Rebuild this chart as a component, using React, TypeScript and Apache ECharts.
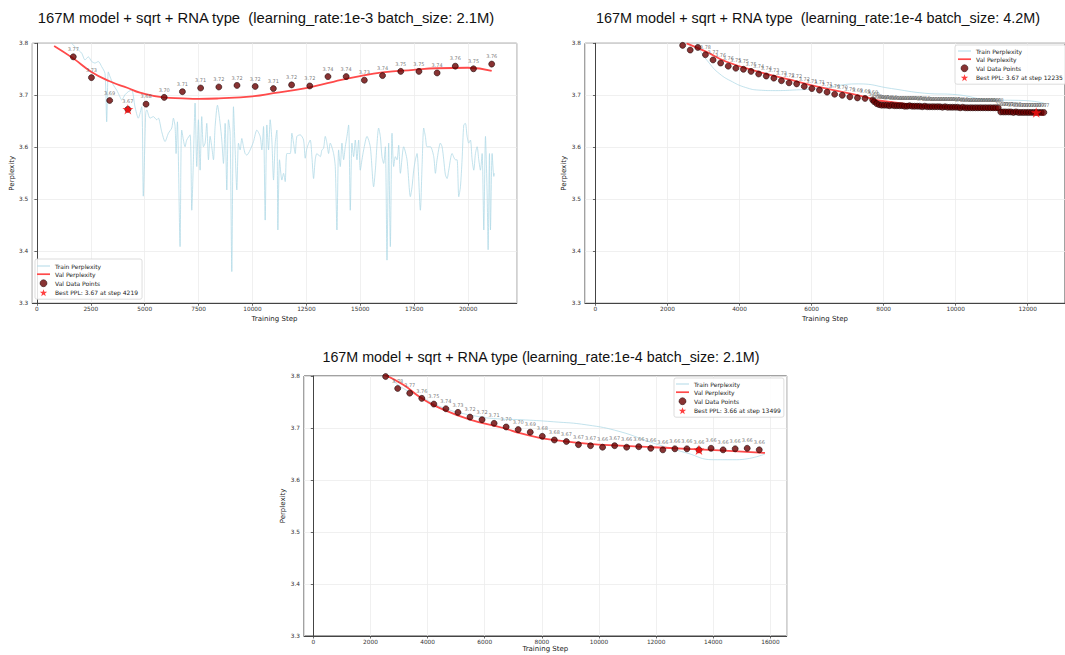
import React, { useEffect, useRef } from "react";
import * as echarts from "echarts";

const STAR =
  "path://M50,2 L61.8,36.2 L97.6,36.2 L68.7,57.6 L79.4,91.8 L50,71 L20.6,91.8 L31.3,57.6 L2.4,36.2 L38.2,36.2 Z";
const LINE_ICON_THIN = "path://M0,0 L26,0 L26,2.2 L0,2.2 Z";
const LINE_ICON_THICK = "path://M0,0 L26,0 L26,3.4 L0,3.4 Z";

// ---------------- Panel A (top-left) ----------------
const aTitle = "167M model + sqrt + RNA type  (learning_rate:1e-3 batch_size: 2.1M)";
const aTrainSteps = [
  1000, 1400, 1614, 1846, 2078, 2231, 2384, 2542, 2695, 2848, 3006, 3159, 3237, 3312, 3391, 3544, 3701, 3854, 3933,
  4086, 4239, 4397, 4550, 4703, 4861, 4935, 5046, 5093, 5248, 5402, 5557, 5635, 5789, 5944, 6099, 6254, 6331, 6409,
  6455, 6517, 6641, 6718, 6873, 6950, 7105, 7183, 7260, 7337, 7415, 7492, 7570, 7647, 7724, 7802, 7879, 7957, 8034,
  8111, 8189, 8266, 8375, 8498, 8576, 8653, 8731, 8808, 8885, 8963, 9040, 9118, 9195, 9272, 9350, 9427, 9505, 9582,
  9659, 9737, 9892, 10046, 10201, 10356, 10433, 10511, 10588, 10666, 10743, 10820, 10898, 10975, 11053, 11130, 11177,
  11254, 11362, 11440, 11517, 11594, 11749, 11827, 11904, 11981, 12059, 12214, 12368, 12446, 12523, 12678, 12755,
  12833, 12910, 12988, 13142, 13220, 13297, 13375, 13452, 13529, 13607, 13762, 13839, 13916, 13994, 14071, 14149,
  14226, 14303, 14381, 14458, 14536, 14613, 14690, 14768, 14845, 14923, 15000, 15077, 15155, 15310, 15464, 15619,
  15697, 15851, 15929, 16006, 16084, 16161, 16238, 16316, 16393, 16471, 16548, 16625, 16703, 16780, 16858, 17012,
  17167, 17322, 17400, 17477, 17554, 17632, 17786, 17864, 17941, 18019, 18096, 18251, 18406, 18483, 18560, 18715,
  18793, 18870, 18947, 19025, 19102, 19257, 19412, 19489, 19567, 19644, 19721, 19799, 19876, 19954, 20031, 20108,
  20186, 20263, 20341, 20418, 20495, 20573, 20650, 20728, 20805, 20882, 20929, 20991, 21037, 21115, 21192, 21223,
];
const aTrainPpl = [
  3.85, 3.815, 3.8, 3.79, 3.781, 3.768, 3.774, 3.765, 3.762, 3.765, 3.755, 3.742, 3.649, 3.745, 3.736, 3.72, 3.71,
  3.697, 3.691, 3.701, 3.707, 3.71, 3.678, 3.656, 3.678, 3.506, 3.665, 3.672, 3.656, 3.659, 3.653, 3.656, 3.63, 3.611,
  3.627, 3.637, 3.656, 3.64, 3.588, 3.649, 3.409, 3.633, 3.601, 3.614, 3.624, 3.479, 3.576, 3.685, 3.563, 3.653,
  3.556, 3.659, 3.601, 3.608, 3.646, 3.576, 3.621, 3.601, 3.576, 3.64, 3.681, 3.646, 3.614, 3.569, 3.646, 3.518,
  3.653, 3.627, 3.361, 3.678, 3.595, 3.518, 3.608, 3.595, 3.617, 3.601, 3.588, 3.585, 3.595, 3.611, 3.633, 3.621,
  3.595, 3.64, 3.46, 3.643, 3.595, 3.653, 3.614, 3.537, 3.608, 3.633, 3.441, 3.576, 3.537, 3.55, 3.534, 3.588, 3.588,
  3.627, 3.608, 3.588, 3.621, 3.624, 3.614, 3.579, 3.598, 3.614, 3.582, 3.54, 3.576, 3.588, 3.582, 3.595, 3.598,
  3.621, 3.608, 3.588, 3.608, 3.588, 3.563, 3.441, 3.595, 3.563, 3.608, 3.576, 3.601, 3.621, 3.643, 3.479, 3.608,
  3.582, 3.614, 3.576, 3.614, 3.556, 3.576, 3.595, 3.621, 3.601, 3.524, 3.556, 3.637, 3.621, 3.582, 3.569, 3.601,
  3.383, 3.608, 3.409, 3.627, 3.563, 3.582, 3.576, 3.604, 3.55, 3.601, 3.576, 3.505, 3.524, 3.556, 3.576, 3.588,
  3.479, 3.563, 3.637, 3.621, 3.601, 3.601, 3.582, 3.55, 3.576, 3.608, 3.601, 3.576, 3.547, 3.54, 3.556, 3.588,
  3.576, 3.576, 3.505, 3.524, 3.576, 3.643, 3.646, 3.621, 3.608, 3.614, 3.576, 3.556, 3.588, 3.601, 3.576, 3.556,
  3.588, 3.441, 3.621, 3.512, 3.403, 3.588, 3.441, 3.588, 3.544, 3.55,
];
const aFitSteps = [800, 1688, 2531, 3375, 4219, 4782, 5863, 6750, 7505, 8438, 9991, 10965, 12482, 13748, 14987, 16031, 17477, 18563, 19981, 21094];
const aFitPpl = [3.795, 3.771, 3.745, 3.727, 3.714, 3.705, 3.696, 3.694, 3.693, 3.694, 3.698, 3.704, 3.714, 3.726, 3.737, 3.744, 3.749, 3.752, 3.753, 3.747];
const aValSteps = [1688, 2531, 3375, 4219, 5063, 5906, 6750, 7594, 8438, 9281, 10125, 10969, 11813, 12656, 13500, 14344, 15188, 16031, 16875, 17719, 18563, 19406, 20250, 21094];
const aValPpl = [3.774, 3.734, 3.69, 3.673, 3.683, 3.696, 3.707, 3.714, 3.716, 3.719, 3.717, 3.713, 3.72, 3.718, 3.736, 3.736, 3.729, 3.738, 3.746, 3.746, 3.743, 3.756, 3.751, 3.76];
const aBestStep = 4219;
const aBestPpl = 3.673;
const aBestName = "Best PPL: 3.67 at step 4219";

// ---------------- Panel B (top-right) ----------------
const bTitle = "167M model + sqrt + RNA type  (learning_rate:1e-4 batch_size: 4.2M)";
const bTrainSteps = [2700, 2884, 3159, 3434, 3801, 4171, 4538, 4998, 5457, 6193, 7297, 8215, 9137, 10055, 10974, 11895, 12447];
const bTrainPpl = [3.83, 3.79, 3.762, 3.742, 3.726, 3.715, 3.71, 3.709, 3.71, 3.713, 3.722, 3.713, 3.704, 3.701, 3.691, 3.69, 3.685];
const bFitSteps = [2530, 3068, 3619, 4538, 5457, 6193, 7481, 7848, 9319, 11159, 12447];
const bFitPpl = [3.8, 3.784, 3.765, 3.745, 3.729, 3.716, 3.697, 3.69, 3.679, 3.672, 3.662];
const bValSteps = [
  2420, 2631, 2842, 3053, 3264, 3475, 3686, 3897, 4108, 4319, 4530, 4741, 4952, 5163, 5374, 5585, 5796, 6007, 6218,
  6429, 6640, 6851, 7062, 7273, 7484, 7695, 7735, 7806, 7876, 7946, 8016, 8087, 8157, 8227, 8297, 8368, 8438, 8508,
  8579, 8649, 8719, 8790, 8860, 8930, 9000, 9071, 9141, 9211, 9282, 9352, 9422, 9493, 9563, 9633, 9704, 9774, 9844,
  9915, 9985, 10055, 10125, 10196, 10266, 10336, 10407, 10477, 10547, 10618, 10688, 10758, 10829, 10899, 10969,
  11040, 11110, 11180, 11251, 11321, 11391, 11462, 11532, 11602, 11673, 11743, 11813, 11883, 11954, 12024, 12094,
  12165, 12235, 12305, 12375, 12446,
];
const bValPpl = [
  3.796, 3.787, 3.792, 3.778, 3.768, 3.762, 3.756, 3.752, 3.75, 3.746, 3.741, 3.737, 3.733, 3.728, 3.724, 3.722,
  3.717, 3.713, 3.71, 3.706, 3.702, 3.7, 3.697, 3.695, 3.694, 3.691, 3.688, 3.684, 3.682, 3.681, 3.681, 3.681, 3.68,
  3.681, 3.68, 3.68, 3.68, 3.68, 3.679, 3.679, 3.68, 3.679, 3.679, 3.679, 3.679, 3.678, 3.679, 3.678, 3.678, 3.678,
  3.678, 3.678, 3.678, 3.677, 3.678, 3.677, 3.677, 3.677, 3.677, 3.677, 3.676, 3.677, 3.676, 3.676, 3.676, 3.676,
  3.676, 3.676, 3.676, 3.676, 3.676, 3.676, 3.676, 3.676, 3.676, 3.676, 3.668, 3.668, 3.668, 3.668, 3.668, 3.667,
  3.668, 3.667, 3.667, 3.667, 3.667, 3.667, 3.667, 3.667, 3.667, 3.667, 3.667, 3.667,
];
const bBestStep = 12235;
const bBestPpl = 3.667;
const bBestName = "Best PPL: 3.67 at step 12235";

// ---------------- Panel C (bottom) ----------------
const cTitle = "167M model + sqrt + RNA type (learning_rate:1e-4 batch_size: 2.1M)";
const cTrainSteps = [2600, 2919, 3794, 4500, 5485, 6650, 7235, 8400, 9570, 10735, 11900, 13070, 14000, 14820, 15810];
const cTrainPpl = [3.81, 3.785, 3.759, 3.74, 3.725, 3.717, 3.716, 3.712, 3.706, 3.693, 3.671, 3.652, 3.639, 3.639, 3.65];
const cFitSteps = [2510, 3150, 3794, 4319, 5485, 6650, 7235, 7935, 8400, 9570, 10735, 11900, 13070, 14235, 15810];
const cFitPpl = [3.802, 3.783, 3.757, 3.741, 3.716, 3.7, 3.69, 3.681, 3.677, 3.67, 3.666, 3.663, 3.66, 3.657, 3.652];
const cValSteps = [
  2531, 2953, 3375, 3797, 4219, 4641, 5063, 5485, 5906, 6328, 6750, 7172, 7594, 8016, 8438, 8859, 9281, 9703, 10125,
  10547, 10969, 11391, 11812, 12234, 12656, 13078, 13499, 13922, 14344, 14766, 15188, 15609,
];
const cValPpl = [
  3.799, 3.776, 3.767, 3.757, 3.746, 3.737, 3.73, 3.721, 3.716, 3.709, 3.702, 3.697, 3.692, 3.684, 3.677, 3.674,
  3.668, 3.666, 3.663, 3.666, 3.663, 3.664, 3.661, 3.658, 3.66, 3.66, 3.658, 3.661, 3.658, 3.66, 3.661, 3.658,
];
const cBestStep = 13499;
const cBestPpl = 3.658;
const cBestName = "Best PPL: 3.66 at step 13499";

const yTicks = ["3.3", "3.4", "3.5", "3.6", "3.7", "3.8"];

const panels = [
  {
    title: aTitle, titleX: 266, titleY: 18, titleSize: 14.8,
    grid: { left: 32.3, top: 43.3, width: 484.4, height: 260 },
    xMin: -213, xMax: 22254, xStep: 2500, yNameGap: 14, xNameGap: 12,
    train: [aTrainSteps, aTrainPpl], trainSmooth: 0.25,
    fit: [aFitSteps, aFitPpl], val: [aValSteps, aValPpl], best: [aBestStep, aBestPpl], bestName: aBestName,
    legend: { left: 35, top: 259, padding: [4, 4, 3, 2] }, hide: [] as number[],
  },
  {
    title: bTitle, titleX: 818, titleY: 18, titleSize: 14.4,
    grid: { left: 585, top: 43.3, width: 483, height: 260 },
    xMin: -290, xMax: 13034, xStep: 2000, yNameGap: 14, xNameGap: 12,
    train: [bTrainSteps, bTrainPpl], trainSmooth: 0.5,
    fit: [bFitSteps, bFitPpl], val: [bValSteps, bValPpl], best: [bBestStep, bBestPpl], bestName: bBestName,
    legend: { left: 955, top: 45, padding: [3, 3, 3, 3] }, hide: [0, 1, 2] as number[],
  },
  {
    title: cTitle, titleX: 541, titleY: 357, titleSize: 14.3,
    grid: { left: 304, top: 376, width: 482.7, height: 260 },
    xMin: -326, xMax: 16570, xStep: 2000, yNameGap: 14, xNameGap: 9,
    train: [cTrainSteps, cTrainPpl], trainSmooth: 0.5,
    fit: [cFitSteps, cFitPpl], val: [cValSteps, cValPpl], best: [cBestStep, cBestPpl], bestName: cBestName,
    legend: { left: 674, top: 378, padding: [3, 3, 3, 2] }, hide: [0] as number[],
  },
];

const pairs = (xs: number[], ys: number[]) => xs.map((x, i) => [x, ys[i]]);

function buildOption() {
  const grid: any[] = [];
  const xAxis: any[] = [];
  const yAxis: any[] = [];
  const series: any[] = [];
  const legend: any[] = [];
  const graphic: any[] = [];
  const tickFont = { fontSize: 5.8, color: "#333", fontFamily: "DejaVu Sans" };

  panels.forEach((p, i) => {
    grid.push({ ...p.grid, show: true, borderColor: "#444", borderWidth: 1, backgroundColor: "#fff", containLabel: false });
    xAxis.push({
      type: "value", gridIndex: i, min: p.xMin, max: p.xMax, minInterval: p.xStep, maxInterval: p.xStep,
      name: "Training Step", nameLocation: "middle", nameGap: p.xNameGap,
      nameTextStyle: { fontSize: 7, color: "#222", fontFamily: "DejaVu Sans" },
      axisLine: { show: true, lineStyle: { color: "#444", width: 1 } },
      axisTick: { show: true, length: 2.5, lineStyle: { color: "#444", width: 0.8 } },
      axisLabel: {
        ...tickFont, margin: 3, showMinLabel: false, showMaxLabel: false,
        formatter: (v: number) => (Math.abs(v % p.xStep) < 1e-6 ? String(v) : ""),
      },
      splitLine: { show: true, lineStyle: { color: "#ececec", width: 0.8 } },
    });
    yAxis.push({
      type: "value", gridIndex: i, min: 3.3, max: 3.8, interval: 0.1,
      name: "Perplexity", nameLocation: "middle", nameGap: p.yNameGap,
      nameTextStyle: { fontSize: 7, color: "#222", fontFamily: "DejaVu Sans" },
      axisLine: { show: true, lineStyle: { color: "#444", width: 1 } },
      axisTick: { show: true, length: 2.5, lineStyle: { color: "#444", width: 0.8 } },
      axisLabel: {
        ...tickFont, margin: 4,
        formatter: (v: number) => yTicks[Math.round((v - 3.3) * 10)] ?? "",
      },
      splitLine: { show: true, lineStyle: { color: "#ececec", width: 0.8 } },
    });
    series.push({
      name: "Train Perplexity", type: "line", xAxisIndex: i, yAxisIndex: i, z: 2,
      data: pairs(p.train[0], p.train[1]), symbol: "none", smooth: p.trainSmooth, clip: true,
      lineStyle: { color: "#add8e6", width: 1, opacity: 0.75 }, itemStyle: { color: "#b9dde9" },
    });
    series.push({
      name: "Val Perplexity", type: "line", xAxisIndex: i, yAxisIndex: i, z: 3,
      data: pairs(p.fit[0], p.fit[1]), symbol: "none", smooth: 0.5, clip: true,
      lineStyle: { color: "#ff4a4a", width: 1.8 }, itemStyle: { color: "#ff4a4a" },
    });
    series.push({
      name: "Val Data Points", type: "scatter", xAxisIndex: i, yAxisIndex: i, z: 4,
      data: p.val[0].map((x, k) =>
        p.hide.includes(k) ? { value: [x, p.val[1][k]], label: { show: false } } : { value: [x, p.val[1][k]] }
      ),
      symbol: "circle", symbolSize: 6,
      itemStyle: { color: "#6a0000", borderColor: "#1a0000", borderWidth: 0.7 },
      label: {
        show: true, position: "top", distance: 2, fontSize: 5, color: "#555", fontFamily: "DejaVu Sans",
        formatter: (d: any) => d.value[1].toFixed(2),
      },
    });
    series.push({
      name: p.bestName, type: "scatter", xAxisIndex: i, yAxisIndex: i, z: 5,
      data: [[p.best[0], p.best[1]]], symbol: STAR, symbolSize: 11, symbolKeepAspect: true,
      itemStyle: { color: "#ff1010" },
    });
    legend.push({
      orient: "vertical", left: p.legend.left, top: p.legend.top, padding: p.legend.padding,
      itemWidth: 13, itemHeight: 7, itemGap: 2.2, selectedMode: false,
      backgroundColor: "rgba(255,255,255,0.85)", borderColor: "#d4d4d4", borderWidth: 0.8, borderRadius: 2,
      textStyle: { fontSize: 6, color: "#222", fontFamily: "DejaVu Sans" },
      data: [
        { name: "Train Perplexity", icon: LINE_ICON_THIN, itemStyle: { color: "#b9dde9", borderWidth: 0 } },
        { name: "Val Perplexity", icon: LINE_ICON_THICK, itemStyle: { color: "#ff4a4a", borderWidth: 0 } },
        { name: "Val Data Points", itemStyle: { borderWidth: 0.6 } },
        { name: p.bestName },
      ],
    });
    graphic.push({
      type: "text", x: p.titleX, y: p.titleY, silent: true,
      style: {
        text: p.title, fill: "#111", font: `${p.titleSize}px "Liberation Sans", Arial, sans-serif`,
        textAlign: "center", textVerticalAlign: "middle",
      },
    });
  });

  return { animation: false, backgroundColor: "#fff", grid, xAxis, yAxis, series, legend, graphic };
}

export default function App() {
  const ref = useRef<HTMLDivElement>(null);
  useEffect(() => {
    document.body.style.margin = "0";
    const chart = echarts.init(ref.current!, undefined, { renderer: "svg" });
    chart.setOption(buildOption() as any);
    return () => chart.dispose();
  }, []);
  return <div ref={ref} style={{ width: 1065, height: 655 }} />;
}
